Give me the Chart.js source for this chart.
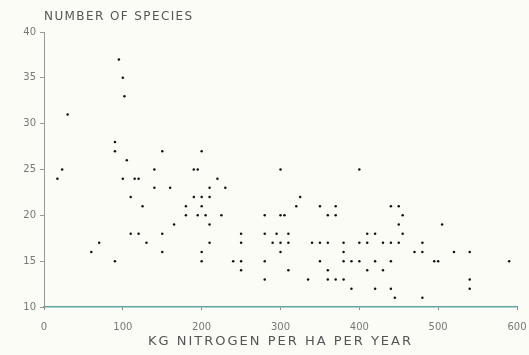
<!DOCTYPE html>
<html>
<head>
<meta charset="utf-8">
<script src="https://cdn.jsdelivr.net/npm/chart.js@4.4.0/dist/chart.umd.min.js"></script>
<style>
  html, body { margin: 0; padding: 0; background: #fcfcf7; }
  canvas { display: block; }
</style>
</head>
<body>
<canvas id="speciesChart" width="529" height="355"></canvas>
<script>
// kg nitrogen per ha per year
const nitrogen = [
    95, 100, 102, 30, 90, 90, 150, 105, 23, 17, 100, 115, 120, 140, 140, 110, 125,
    110, 120, 150, 70, 130, 60, 150, 90,
    200, 190, 195, 300, 220, 160, 210, 230, 190, 200, 210, 180, 200, 180, 195, 205,
    225, 280, 300, 305, 165, 210, 250, 280, 295, 310, 210, 250, 290, 300, 310, 200,
    300, 200, 240, 250, 280, 250, 310, 280,
    400, 325, 320, 350, 370, 440, 450, 360, 370, 455, 450, 410, 420, 455, 340, 350,
    360, 380, 400, 410, 430, 440, 450, 380, 350, 380, 390, 400, 420, 440, 360, 410,
    430, 335, 360, 370, 380, 390, 420, 440, 445,
    505, 480, 470, 480, 520, 540, 495, 500, 590, 540, 540, 480
];
// number of species
const species = [
    37, 35, 33, 31, 28, 27, 27, 26, 25, 24, 24, 24, 24, 25, 23, 22, 21,
    18, 18, 18, 17, 17, 16, 16, 15,
    27, 25, 25, 25, 24, 23, 23, 23, 22, 22, 22, 21, 21, 20, 20, 20,
    20, 20, 20, 20, 19, 19, 18, 18, 18, 18, 17, 17, 17, 17, 17, 16,
    16, 15, 15, 15, 15, 14, 14, 13,
    25, 22, 21, 21, 21, 21, 21, 20, 20, 20, 19, 18, 18, 18, 17, 17,
    17, 17, 17, 17, 17, 17, 17, 16, 15, 15, 15, 15, 15, 15, 14, 14,
    14, 13, 13, 13, 13, 12, 12, 12, 11,
    19, 17, 16, 16, 16, 16, 15, 15, 15, 13, 12, 11
];
const xTicks = [0, 100, 200, 300, 400, 500, 600];
const yTicks = [10, 15, 20, 25, 30, 35, 40];

const yTitle = 'NUMBER OF SPECIES';
const xTitle = 'KG NITROGEN PER HA PER YEAR';

const points = nitrogen.map((n, i) => ({ x: n, y: species[i] }));

// titles drawn by hand, the old plotter lettering is widely spaced
const titlePlugin = {
    id: 'plotTitles',
    afterDraw(chart) {
        const ctx = chart.ctx;
        const area = chart.chartArea;
        ctx.save();
        ctx.fillStyle = '#555';
        ctx.textBaseline = 'middle';
        ctx.font = '12px "DejaVu Sans"';
        ctx.letterSpacing = '1.4px';
        ctx.textAlign = 'left';
        ctx.fillText(yTitle, area.left, 17);
        ctx.font = '13px "DejaVu Sans"';
        ctx.letterSpacing = '2px';
        ctx.textAlign = 'center';
        ctx.fillText(xTitle, (area.left + area.right) / 2, 342);
        ctx.restore();
    }
};

const ctx = document.getElementById('speciesChart').getContext('2d');
new Chart(ctx, {
    type: 'scatter',
    data: {
        datasets: [{
            data: points,
            backgroundColor: '#111',
            borderColor: '#111',
            pointRadius: 1.25,
            pointHoverRadius: 1.25,
            borderWidth: 0
        }]
    },
    options: {
        responsive: false,
        animation: false,
        layout: { padding: { left: 0, right: 12, top: 32, bottom: 0 } },
        scales: {
            x: {
                type: 'linear',
                min: 0,
                max: 600,
                afterBuildTicks: s => { s.ticks = xTicks.map(v => ({ value: v })); },
                afterFit: s => {
                    s.height = 48;
                    s.paddingLeft = 0;
                    s.paddingRight = 0;
                },
                border: { color: '#5fa3a3', width: 1.5 },
                grid: { drawOnChartArea: false, color: '#888', tickLength: 3 },
                ticks: {
                    color: '#777',
                    padding: 11,
                    maxRotation: 0,
                    font: { family: 'DejaVu Sans', size: 10 }
                }
            },
            y: {
                min: 10,
                max: 40,
                afterBuildTicks: s => { s.ticks = yTicks.map(v => ({ value: v })); },
                afterFit: s => {
                    s.width = 44;
                    s.paddingTop = 0;
                    s.paddingBottom = 0;
                },
                border: { color: '#999', width: 1 },
                grid: { drawOnChartArea: false, color: '#999', tickLength: 4 },
                ticks: {
                    color: '#777',
                    padding: 4,
                    font: { family: 'DejaVu Sans', size: 10 }
                }
            }
        },
        plugins: {
            legend: { display: false },
            tooltip: { enabled: false }
        }
    },
    plugins: [titlePlugin]
});
</script>
</body>
</html>
